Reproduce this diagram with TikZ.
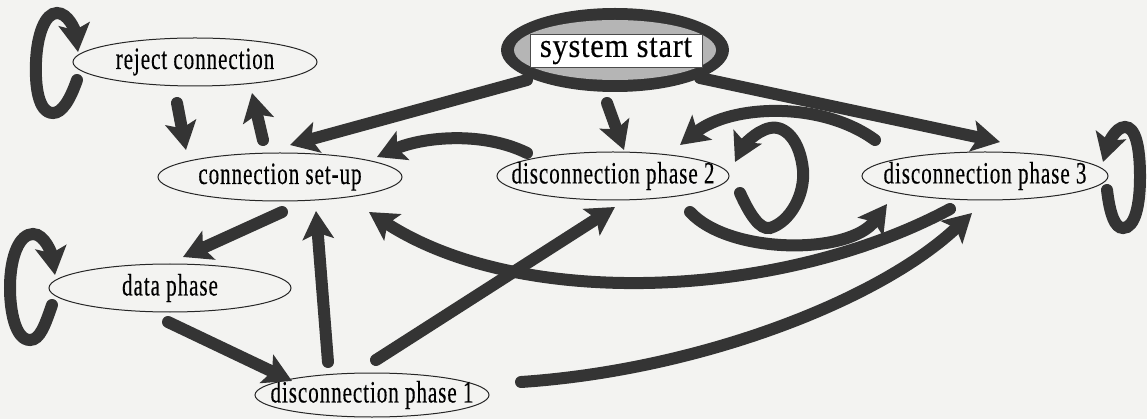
\documentclass[tikz,border=0pt]{standalone}
\usepackage{fontspec}
\usetikzlibrary{arrows.meta,shapes.geometric,calc}
\definecolor{paper}{RGB}{243,243,241}
\definecolor{ink}{RGB}{52,52,52}
% narrow, loosely spaced serif for the state names
\newfontfamily\statefont{Liberation Serif}[FakeStretch=0.68, LetterSpace=3, FakeBold=0.3]
\newfontfamily\startfont{Liberation Serif}[FakeStretch=0.9, LetterSpace=2, FakeBold=0.3]
% zero-width label so each ellipse keeps the size it is given
\newcommand\statelabel[1]{\makebox[0pt]{#1}}

\begin{document}
\begin{tikzpicture}[x=1pt,y=-1pt,
  state/.style={ellipse, draw=black!85, line width=1pt, fill=paper,
    inner sep=0pt, font=\statefont\fontsize{31}{31}\selectfont},
  arr/.style={draw=ink, line width=12pt, line cap=round,
    -{Stealth[length=28pt,width=31pt,inset=6pt]}},
]
\fill[paper] (0,0) rectangle (1147,419);
\useasboundingbox (0,0) rectangle (1147,419);

% ---- states ----
\node[state, minimum width=244pt, minimum height=48pt] (reject) at (195,62) {\statelabel{reject connection}};
\node[state, minimum width=244pt, minimum height=48pt] (conn)   at (280,177) {\statelabel{connection set-up}};
\node[state, minimum width=232pt, minimum height=48pt] (d2)     at (613,176) {\statelabel{disconnection phase 2}};
\node[state, minimum width=246pt, minimum height=48pt] (d3)     at (985,176) {\statelabel{disconnection phase 3}};
\node[state, minimum width=242pt, minimum height=48pt] (data)   at (170,288) {\statelabel{data phase}};
\node[state, minimum width=234pt, minimum height=44pt] (d1)     at (372,395) {\statelabel{disconnection phase 1}};

% ---- initial state: dark ring, shaded core, white label plate ----
\node[ellipse, fill=ink, minimum width=228pt, minimum height=84pt, inner sep=0pt] (sys) at (615,50) {};
\node[ellipse, fill=gray!58, minimum width=202pt, minimum height=60pt, inner sep=0pt] (syscore) at (sys) {};
\node[fill=white, draw=black!70, line width=0.8pt, minimum width=172pt, minimum height=33pt,
  inner sep=0pt, font=\startfont\fontsize{34}{34}\selectfont] (systext) at (616,51)
  {\statelabel{system start}};

% ---- transitions from system start ----
\draw[arr] ($(sys)+(-88,30)$) -- ($(conn)+(10,-32)$);
\draw[arr] ($(sys)+(-8,53)$) -- ($(d2)+(11,-26)$);
\draw[arr] ($(sys)+(85,28)$) -- ($(d3)+(15,-34)$);

% ---- reject connection <-> connection set-up ----
\draw[arr] ($(reject)+(-18,41)$) -- ($(conn)+(-94,-27)$);
\draw[arr] ($(conn)+(-17,-37)$) -- ($(reject)+(57,31)$);

% ---- disconnection phase 2 -> connection set-up ----
\draw[arr] ($(d2)+(-86,-23)$) .. controls ($(d2)+(-133,-46)$) and ($(conn)+(140,-39)$) .. ($(conn)+(97,-20)$);

% ---- connection set-up -> data phase -> disconnection phase 1 ----
\draw[arr] ($(conn)+(2,35)$) -- ($(data)+(13,-31)$);
\draw[arr] ($(data)+(-2,34)$) -- ($(d1)+(-80,-14)$);

% ---- from disconnection phase 1 ----
\draw[arr] ($(d1)+(-44,-33)$) -- ($(conn)+(36,34)$);
\draw[arr] ($(d1)+(4,-35)$) -- ($(d2)+(2,31)$);
\draw[arr] ($(d1)+(149,-13)$) .. controls ($(d1)+(328,-25)$) and ($(d3)+(-105,124)$) .. ($(d3)+(-13,37)$);

% ---- disconnection phase 3 -> connection set-up ----
\draw[arr] ($(d3)+(-35,33)$) .. controls ($(d3)+(-205,124)$) and ($(conn)+(240,133)$) .. ($(conn)+(89,35)$);

% ---- between phase 2 and phase 3 ----
\draw[arr] ($(d2)+(77,36)$) .. controls ($(d2)+(117,79)$) and ($(d3)+(-135,79)$) .. ($(d3)+(-98,28)$);
\draw[arr] ($(d3)+(-110,-36)$) .. controls ($(d3)+(-165,-76)$) and ($(d2)+(117,-71)$) .. ($(d2)+(67,-31)$);

% ---- self loops ----
\draw[arr] ($(d2)+(127,17)$)
  .. controls ($(d2)+(137,39)$) and ($(d2)+(147,54)$) .. ($(d2)+(157,52)$)
  .. controls ($(d2)+(177,46)$) and ($(d2)+(192,19)$) .. ($(d2)+(190,-6)$)
  .. controls ($(d2)+(187,-36)$) and ($(d2)+(172,-51)$) .. ($(d2)+(157,-48)$)
  .. controls ($(d2)+(142,-45)$) and ($(d2)+(129,-28)$) .. ($(d2)+(122,-14)$);
\draw[arr] ($(d3)+(122,14)$)
  .. controls ($(d3)+(125,39)$) and ($(d3)+(130,52)$) .. ($(d3)+(138,52)$)
  .. controls ($(d3)+(150,52)$) and ($(d3)+(155,29)$) .. ($(d3)+(155,1)$)
  .. controls ($(d3)+(155,-31)$) and ($(d3)+(150,-49)$) .. ($(d3)+(140,-49)$)
  .. controls ($(d3)+(130,-49)$) and ($(d3)+(123,-31)$) .. ($(d3)+(118,-14)$);
\draw[arr] ($(reject)+(-118,18)$)
  .. controls ($(reject)+(-125,38)$) and ($(reject)+(-133,51)$) .. ($(reject)+(-142,51)$)
  .. controls ($(reject)+(-157,51)$) and ($(reject)+(-160,23)$) .. ($(reject)+(-159,0)$)
  .. controls ($(reject)+(-158,-27)$) and ($(reject)+(-150,-49)$) .. ($(reject)+(-138,-49)$)
  .. controls ($(reject)+(-127,-49)$) and ($(reject)+(-120,-32)$) .. ($(reject)+(-117,-10)$);
\draw[arr] ($(data)+(-118,17)$)
  .. controls ($(data)+(-125,37)$) and ($(data)+(-130,52)$) .. ($(data)+(-140,52)$)
  .. controls ($(data)+(-155,52)$) and ($(data)+(-160,22)$) .. ($(data)+(-160,0)$)
  .. controls ($(data)+(-160,-33)$) and ($(data)+(-150,-54)$) .. ($(data)+(-137,-54)$)
  .. controls ($(data)+(-125,-54)$) and ($(data)+(-118,-33)$) .. ($(data)+(-115,-13)$);
\end{tikzpicture}
\end{document}
